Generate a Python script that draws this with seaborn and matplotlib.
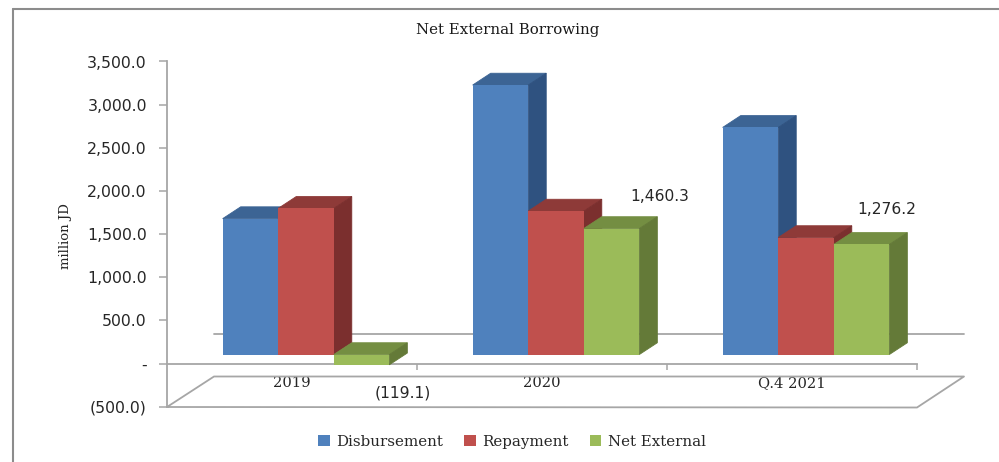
import matplotlib
matplotlib.use("Agg")
import matplotlib.pyplot as plt
import seaborn as sns
import pandas as pd
from matplotlib.lines import Line2D
from matplotlib.patches import Polygon, Patch

periods = ["2019", "2020", "Q.4 2021"]
disbursement = [1575.0, 3123.0, 2632.0]
repayment = [1694.1, 1662.7, 1355.8]
net_external = [-119.1, 1460.3, 1276.2]
series_names = ["Disbursement", "Repayment", "Net External"]
front_colors = ["#4F81BD", "#C0504D", "#9BBB59"]
top_colors = ["#3C6494", "#8E3A38", "#748E42"]
side_colors = ["#2F5280", "#7B2F2E", "#647A38"]
y_ticks = [-500, 0, 500, 1000, 1500, 2000, 2500, 3000, 3500]
y_tick_labels = ["(500.0)", "-", "500.0", "1,000.0", "1,500.0", "2,000.0",
                 "2,500.0", "3,000.0", "3,500.0"]
label_offsets = [(41, -28), (48, 32), (25, 35)]

df = pd.DataFrame({
    "period": periods * 3,
    "series": [s for s in series_names for _ in periods],
    "value": disbursement + repayment + net_external,
})

W, H = 999, 462
sns.set_theme(style="white")
fig = plt.figure(figsize=(W / 100, H / 100), dpi=100, facecolor="white")
GRAY = "#A6A6A6"
TXT = "#262626"


def rect(left, right, top, bottom):
    return [left / W, 1 - bottom / H, (right - left) / W, (bottom - top) / H]


def pix_line(ax, xs, ys, color=GRAY, lw=1.3):
    ax.add_artist(Line2D([x / W for x in xs], [1 - y / H for y in ys], color=color,
                         lw=lw, transform=fig.transFigure, clip_on=False))


# Front plane axes: carries the value axis and category axis
ax_axis = fig.add_axes(rect(167, 917, 61.5, 406.7), zorder=1)
ax_axis.patch.set_alpha(0)
ax_axis.set_xlim(-0.5, 2.5)
ax_axis.set_ylim(-500, 3500)
sns.despine(ax=ax_axis, top=True, right=True, left=False, bottom=False)
ax_axis.spines["left"].set_color(GRAY)
ax_axis.spines["left"].set_linewidth(1.3)
ax_axis.spines["bottom"].set_position(("data", 0))
ax_axis.spines["bottom"].set_color(GRAY)
ax_axis.spines["bottom"].set_linewidth(1.3)
ax_axis.set_yticks(y_ticks, y_tick_labels, fontsize=11.3, color=TXT,
                   fontfamily="DejaVu Sans")
ax_axis.tick_params(axis="y", left=True, length=6, color=GRAY, width=1.1, pad=8.5)
ax_axis.set_xticks([0, 1, 2], periods, fontsize=10.6, color=TXT, fontfamily="DejaVu Serif")
ax_axis.set_xticks([0.5, 1.5, 2.5], minor=True)
ax_axis.tick_params(axis="x", which="major", bottom=False, pad=3)
ax_axis.tick_params(axis="x", which="minor", bottom=True, length=4, color=GRAY, width=1.1)
ax_axis.set_ylabel("million JD", fontsize=9.5, color=TXT, fontfamily="DejaVu Serif")
ax_axis.yaxis.set_label_coords((72 - 167) / 750, 0.493)

# Floor and frame
pix_line(ax_axis, [214, 964], [333.5, 333.5])
pix_line(ax_axis, [167, 214, 964, 917, 167], [407, 376.5, 376.5, 407.5, 407])
pix_line(ax_axis, [13, 13], [462, 8.5], color="#8C8C8C", lw=1.5)
pix_line(ax_axis, [13, 999], [8.5, 8.5], color="#8C8C8C", lw=1.5)

# Bars sit mid-depth: shifted from the front plane
ax_bar = fig.add_axes(rect(181, 931, 52.5, 397.7), zorder=2)
ax_bar.patch.set_alpha(0)
sns.barplot(data=df, x="period", y="value", hue="series", hue_order=series_names,
            palette=front_colors, saturation=1, width=2 / 3, gap=0, dodge=True,
            legend=False, linewidth=0, ax=ax_bar)
ax_bar.set_xlim(-0.5, 2.5)
ax_bar.set_ylim(-500, 3500)
ax_bar.axis("off")

dx = 18 / 250
dy = 11.8 / (345.2 / 4000)
for i, container in enumerate(ax_bar.containers):
    for j, bar in enumerate(container):
        bar.set_zorder(3 + 2 * i)
        bar.set_clip_on(False)
        bar.set_edgecolor("none")
        x0, w = bar.get_x(), bar.get_width()
        y0 = bar.get_y()
        y1 = y0 + bar.get_height()
        hi, lo = max(y0, y1), min(y0, y1)
        ax_bar.add_patch(Polygon([(x0, hi), (x0 + w, hi), (x0 + w + dx, hi + dy), (x0 + dx, hi + dy)],
                                 closed=True, fc=top_colors[i], ec=top_colors[i], lw=0.6,
                                 zorder=2 + 2 * i, clip_on=False))
        ax_bar.add_patch(Polygon([(x0 + w, lo), (x0 + w + dx, lo + dy), (x0 + w + dx, hi + dy), (x0 + w, hi)],
                                 closed=True, fc=side_colors[i], ec=side_colors[i], lw=0.6,
                                 zorder=2 + 2 * i, clip_on=False))

# Data labels of the net series
for j, bar in enumerate(ax_bar.containers[2]):
    value = net_external[j]
    text = f"({abs(value):,.1f})" if value < 0 else f"{value:,.1f}"
    y_end = bar.get_y() + bar.get_height()
    ax_bar.annotate(text, (bar.get_x() + bar.get_width() / 2, y_end),
                    xytext=(label_offsets[j][0] * 0.72, label_offsets[j][1] * 0.72),
                    textcoords="offset points", ha="center", va="center",
                    fontsize=11.2, color=TXT, fontfamily="DejaVu Sans", zorder=20)

fig.text(508 / W, 1 - 30 / H, "Net External Borrowing", ha="center", va="center",
         fontsize=10.8, color="#1A1A1A", fontfamily="DejaVu Serif")

handles = [Patch(fc=c, ec="none") for c in front_colors]
fig.legend(handles, series_names, loc="center", bbox_to_anchor=(512 / W, 1 - 442 / H),
           ncol=3, frameon=False, handlelength=0.75, handleheight=0.75,
           handletextpad=0.45, columnspacing=1.4,
           prop={"family": "DejaVu Serif", "size": 10.8}, labelcolor=TXT)

fig.savefig("out.png", dpi=100, facecolor="white")
